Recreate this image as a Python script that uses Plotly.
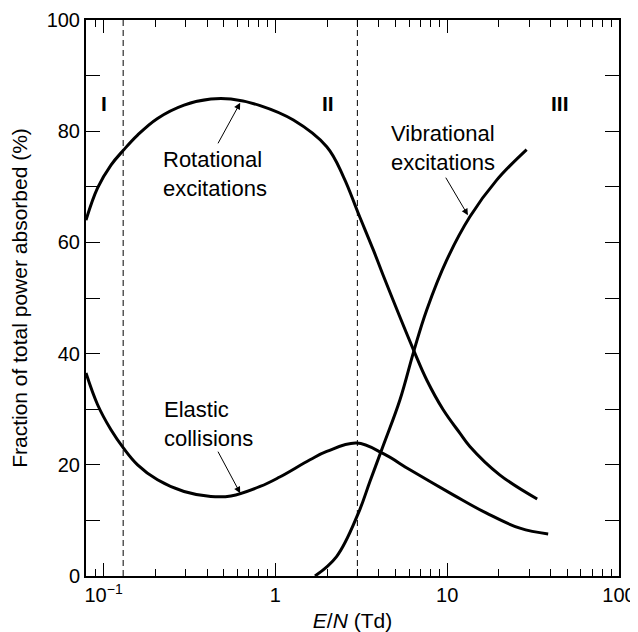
import numpy as np
import plotly.graph_objects as go

# Data
rot_x = [0.079, 0.0923, 0.1104, 0.1306, 0.1577, 0.206, 0.294, 0.421, 0.551, 0.815, 1.273, 1.99, 2.49,
         3.04, 3.72, 4.25, 6.4, 7.59, 9.48, 11.85, 13.55, 20.2, 33.4]
rot_y = [64.0, 69.8, 73.9, 76.6, 79.3, 82.3, 84.7, 85.8, 85.8, 84.6, 82.0, 77.2, 71.8,
         65.2, 58.6, 54.0, 40.5, 35.3, 29.9, 25.7, 23.3, 18.2, 13.85]

ela_x = [0.079, 0.0923, 0.1104, 0.1306, 0.1577, 0.206, 0.294, 0.421, 0.551, 0.815, 1.06, 1.59, 1.99,
         2.97, 4.25, 6.07, 10.84, 16.95, 26.5, 38.7]
ela_y = [36.5, 30.8, 26.3, 23.0, 20.0, 17.3, 15.2, 14.3, 14.4, 16.1, 17.8, 20.9, 22.4,
         23.9, 22.0, 19.1, 14.6, 11.3, 8.6, 7.55]

vib_x = [1.70, 2.27, 3.04, 3.55, 4.25, 5.31, 6.4, 7.59, 9.93, 13.55, 19.4, 29.0]
vib_y = [0, 3.5, 11.3, 17.0, 23.5, 31.7, 40.5, 47.8, 56.8, 64.6, 71.2, 76.7]

region_bounds = [0.13, 3.0]
region_labels = ["I", "II", "III"]
region_label_x = [0.101, 2.02, 45.5]
region_label_y = 85

x_tickvals = [0.1, 1, 10, 100]
x_ticktext = ["10<sup>\u22121</sup>", "1", "10", "100"]
x_minor = [0.08, 0.09] + [m * 10.0 ** d for d in (-1, 0, 1) for m in range(2, 10)]
y_tickvals = list(range(0, 101, 10))
y_ticktext = [str(v) if v % 20 == 0 else "" for v in y_tickvals]

FONT = "Liberation Sans, Arial, Helvetica, sans-serif"
line = dict(color="black", width=3)

fig = go.Figure()
for xs, ys in [(rot_x, rot_y), (ela_x, ela_y), (vib_x, vib_y)]:
    fig.add_trace(go.Scatter(x=xs, y=ys, mode="lines", line=dict(shape="spline", smoothing=1.1, **line),
                             showlegend=False, hoverinfo="skip"))
for xb in region_bounds:
    fig.add_trace(go.Scatter(x=[xb, xb], y=[0, 100], mode="lines",
                             line=dict(color="black", width=1, dash="6px,4px"),
                             showlegend=False, hoverinfo="skip"))

annotations = []
for lab, lx in zip(region_labels, region_label_x):
    annotations.append(dict(x=np.log10(lx), y=region_label_y, text="<b>" + lab + "</b>", showarrow=False,
                            font=dict(size=21, family=FONT, color="black"), xanchor="center", yanchor="middle"))

text_labels = [
    ("Rotational<br>excitations", 0.2175, 72.3),
    ("Vibrational<br>excitations", 4.63, 77.0),
    ("Elastic<br>collisions", 0.2225, 27.3),
]
for txt, lx, ly in text_labels:
    annotations.append(dict(x=np.log10(lx), y=ly, text=txt, showarrow=False, align="left",
                            xanchor="left", yanchor="middle", borderpad=0,
                            font=dict(size=22, family=FONT, color="black")))

arrows = [
    (0.624, 85.1, -23, 42),
    (13.2, 64.9, -23, -39),
    (0.624, 14.9, -23, -43),
]
for hx, hy, axp, ayp in arrows:
    annotations.append(dict(x=np.log10(hx), y=hy, text="", showarrow=True, ax=axp, ay=ayp,
                            arrowhead=2, arrowsize=1.3, arrowwidth=1, arrowcolor="black", standoff=0))

# The page body adds an 8px offset, so the figure is 8px smaller than the window
fig.update_layout(
    width=630, height=624,
    margin=dict(l=78, r=19, t=12, b=56, autoexpand=False),
    paper_bgcolor="white", plot_bgcolor="white",
    font=dict(family=FONT, size=20, color="black"),
    annotations=annotations,
    xaxis=dict(
        type="log", range=[np.log10(0.079), 2], automargin=False,
        tickvals=x_tickvals, ticktext=x_ticktext,
        ticks="inside", ticklen=13, tickwidth=1, tickcolor="black",
        minor=dict(tickvals=x_minor, ticks="inside", ticklen=7, tickwidth=1, tickcolor="black"),
        showline=True, linecolor="black", linewidth=2, mirror="ticks",
        showgrid=False, zeroline=False,
        tickfont=dict(size=20),
        title=dict(text="<i>E</i>/<i>N</i> (Td)", font=dict(size=21)),
    ),
    yaxis=dict(
        range=[0, 100], automargin=False,
        tickvals=y_tickvals, ticktext=y_ticktext,
        ticks="inside", ticklen=14, tickwidth=1, tickcolor="black",
        showline=True, linecolor="black", linewidth=2, mirror="ticks",
        showgrid=False, zeroline=False,
        tickfont=dict(size=20),
        title=dict(text="Fraction of total power absorbed (%)", font=dict(size=21)),
    ),
)

fig.write_html("out.html")
